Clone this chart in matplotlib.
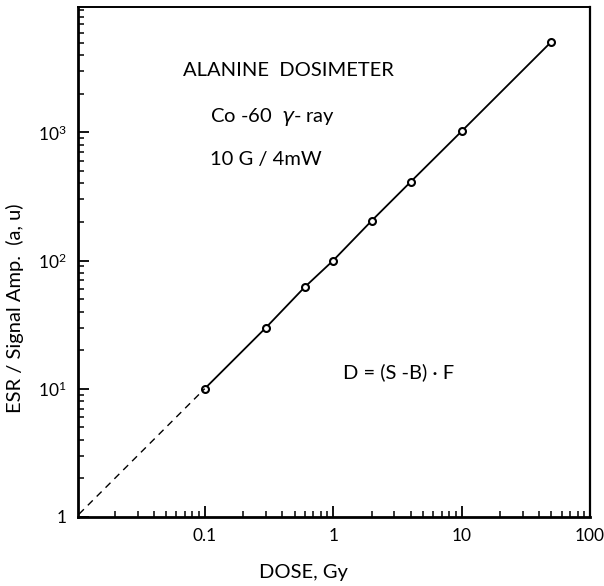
import matplotlib
matplotlib.use("Agg")
import matplotlib.pyplot as plt
from matplotlib.ticker import FixedLocator, LogLocator, NullFormatter

plt.rcParams['font.family'] = ['Lato', 'DejaVu Sans']
plt.rcParams['mathtext.fontset'] = 'dejavusans'

# measured points
dose = [0.1, 0.3, 0.6, 1, 2, 4, 10, 50]
signal = [10, 30, 62, 100, 205, 410, 1020, 5100]
# extrapolation down to the corner
extra_dose = [0.0105, 0.1]
extra_signal = [1.05, 10]

xticks = [0.1, 1, 10, 100]
xticklabels = ['0.1', '1', '10', '100']
yticks = [1, 10, 100, 1000]
yticklabels = ['1', r'$\mathregular{10^1}$', r'$\mathregular{10^2}$', r'$\mathregular{10^3}$']

fig = plt.figure(figsize=(6.04, 5.86), dpi=100)
ax = fig.add_axes([0.129, 0.118, 0.848, 0.870])

ax.plot(dose, signal, color='black', lw=1.3, marker='o', ms=5,
        mfc='white', mec='black', mew=1.5)
ax.plot(extra_dose, extra_signal, color='black', lw=1.0, ls=(0, (5, 4)))

ax.set_xscale('log')
ax.set_yscale('log')
ax.set_xlim(0.0103, 100)
ax.set_ylim(1, 9500)

ax.xaxis.set_major_locator(FixedLocator(xticks))
ax.set_xticklabels(xticklabels)
ax.yaxis.set_major_locator(FixedLocator(yticks))
ax.set_yticklabels(yticklabels)
ax.xaxis.set_minor_locator(LogLocator(base=10, subs=range(2, 10)))
ax.yaxis.set_minor_locator(LogLocator(base=10, subs=range(2, 10)))
ax.xaxis.set_minor_formatter(NullFormatter())
ax.yaxis.set_minor_formatter(NullFormatter())

ax.tick_params(which='major', direction='in', length=8, width=1.3,
               labelsize=12.5, top=False, right=False, pad=8)
ax.tick_params(which='minor', direction='in', length=4, width=1.1,
               top=False, right=False)

ax.spines['left'].set_linewidth(2.0)
ax.spines['bottom'].set_linewidth(2.0)
ax.spines['top'].set_linewidth(1.4)
ax.spines['right'].set_linewidth(1.6)

ax.set_xlabel('DOSE, Gy', fontsize=14.5)
ax.set_ylabel('ESR / Signal Amp.  (a, u)', fontsize=14.5)
ax.xaxis.set_label_coords(0.44, -0.092)
ax.yaxis.set_label_coords(-0.105, 0.41)

ax.text(0.205, 0.876, 'ALANINE  DOSIMETER', transform=ax.transAxes,
        fontsize=14.5, va='center')
ax.text(0.258, 0.784, 'Co -60  $\\gamma$- ray', transform=ax.transAxes,
        fontsize=14.5, va='center')
ax.text(0.258, 0.700, '10 G / 4mW', transform=ax.transAxes,
        fontsize=14.5, va='center')
ax.text(0.518, 0.284, 'D = (S -B) · F', transform=ax.transAxes,
        fontsize=14.5, va='center')

fig.savefig('out.png', dpi=100)
